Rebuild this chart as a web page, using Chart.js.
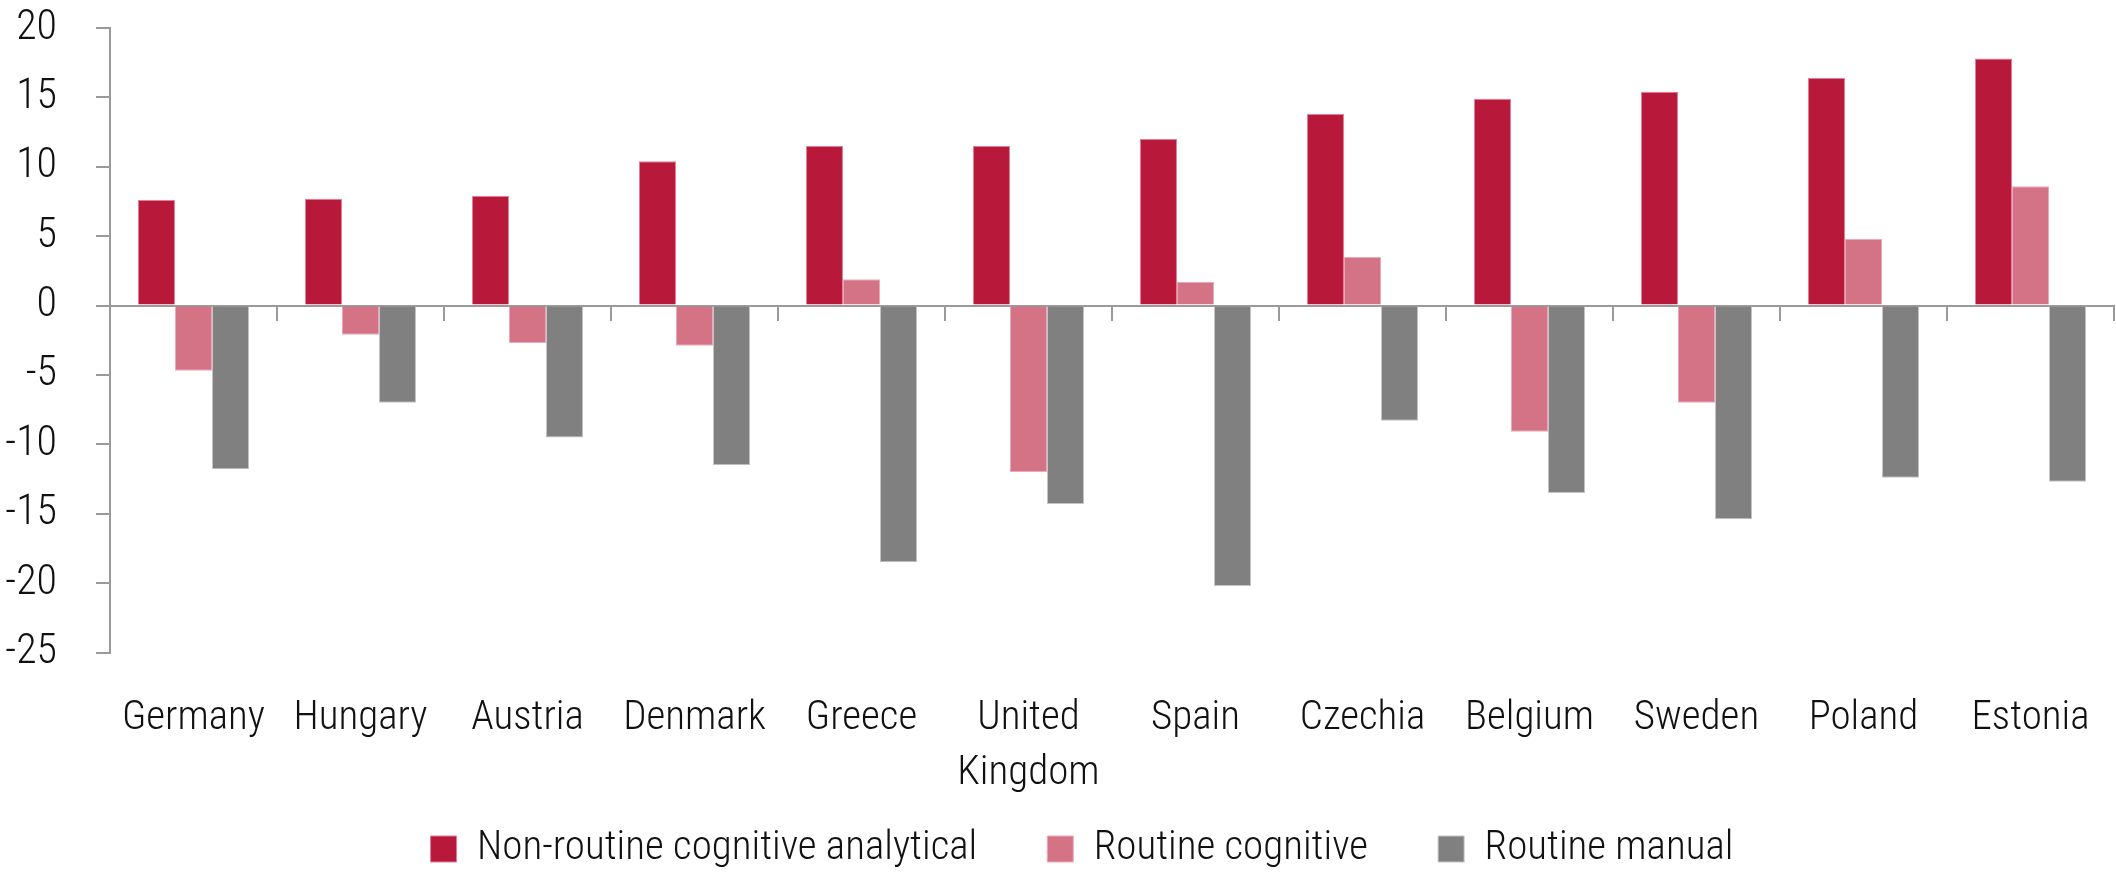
<!DOCTYPE html>
<html>
<head>
<meta charset="utf-8">
<script src="https://cdn.jsdelivr.net/npm/chart.js@4.4.1/dist/chart.umd.min.js"></script>
<style>
  html, body { margin: 0; padding: 0; background: #ffffff; }
  #wrap { position: relative; width: 2116px; height: 872px; }
</style>
</head>
<body>
<div id="wrap"><canvas id="chart" width="2116" height="872"></canvas></div>
<script>
const categories = ['Germany', 'Hungary', 'Austria', 'Denmark', 'Greece', ['United', 'Kingdom'], 'Spain', 'Czechia', 'Belgium', 'Sweden', 'Poland', 'Estonia'];
const seriesNames = ['Non-routine cognitive analytical', 'Routine cognitive', 'Routine manual'];
const nonRoutineCognitiveAnalytical = [7.6, 7.7, 7.9, 10.4, 11.5, 11.5, 12.0, 13.8, 14.9, 15.4, 16.4, 17.8];
const routineCognitive = [-4.7, -2.1, -2.7, -2.9, 1.9, -12.0, 1.7, 3.5, -9.1, -7.0, 4.8, 8.6];
const routineManual = [-11.8, -7.0, -9.5, -11.5, -18.5, -14.3, -20.2, -8.3, -13.5, -15.4, -12.4, -12.7];
const yTicks = [20, 15, 10, 5, 0, -5, -10, -15, -20, -25];

const fam = '"Roboto Condensed", Roboto, sans-serif';
const axisGray = '#9a9a9a';
const textColor = '#111111';

const legendShift = {
  id: 'legendShift',
  afterLayout(chart) {
    if (chart.legend) { chart.legend.left += 25; chart.legend.right += 25; }
  }
};

new Chart(document.getElementById('chart'), {
  type: 'bar',
  data: {
    labels: categories,
    datasets: [
      { label: seriesNames[0], data: nonRoutineCognitiveAnalytical, backgroundColor: '#B8193A', borderColor: '#E07F95', borderWidth: 1 },
      { label: seriesNames[1], data: routineCognitive, backgroundColor: '#D47386', borderColor: '#EBAAB8', borderWidth: 1 },
      { label: seriesNames[2], data: routineManual, backgroundColor: '#808080', borderColor: '#C4C4C4', borderWidth: 1 }
    ]
  },
  options: {
    responsive: false,
    animation: false,
    devicePixelRatio: 1,
    layout: { padding: { top: 28, right: 2, left: 0, bottom: -7.5 } },
    datasets: { bar: { categoryPercentage: 0.665, barPercentage: 1.0 } },
    plugins: {
      title: { display: false },
      tooltip: { enabled: false },
      legend: {
        position: 'bottom',
        labels: {
          boxWidth: 26, boxHeight: 26, padding: 70,
          color: textColor,
          font: { family: fam, size: 41, weight: '300' }
        }
      }
    },
    scales: {
      x: {
        type: 'category',
        position: 'bottom',
        grid: { display: true, drawOnChartArea: false, drawTicks: true, tickLength: 38, color: 'rgba(0,0,0,0)' },
        border: { display: false },
        ticks: {
          color: textColor, padding: 0, maxRotation: 0, minRotation: 0, autoSkip: false,
          font: { family: fam, size: 41, weight: '300', lineHeight: 1.36 }
        },
        afterFit(scale) {
          scale.height = 106;
          scale._computeLabelArea = () => undefined;
        }
      },
      x2: {
        type: 'category',
        labels: categories,
        position: { y: 0 },
        offset: true,
        grid: { offset: true, drawOnChartArea: false, drawTicks: true, tickLength: 14, color: axisGray, lineWidth: 2 },
        border: { display: true, color: axisGray, width: 2 },
        ticks: { display: false }
      },
      y: {
        position: 'left',
        weight: 0,
        min: -25, max: 20,
        afterBuildTicks(scale) { scale.ticks = yTicks.map(v => ({ value: v })); },
        grid: { drawOnChartArea: false, drawTicks: true, tickLength: 14, color: axisGray, lineWidth: 2 },
        border: { display: true, color: axisGray, width: 2 },
        ticks: { display: false },
        afterFit(scale) { scale.width = 45; }
      },
      yLabels: {
        type: 'linear',
        position: 'left',
        weight: 1,
        min: -25, max: 20,
        afterBuildTicks(scale) { scale.ticks = yTicks.map(v => ({ value: v })); },
        grid: { display: false },
        border: { display: false },
        ticks: {
          color: textColor, padding: 0,
          font: { family: fam, size: 42, weight: '300' }
        },
        afterFit(scale) { scale.width = 65; }
      }
    }
  },
  plugins: [legendShift]
});
</script>
</body>
</html>
